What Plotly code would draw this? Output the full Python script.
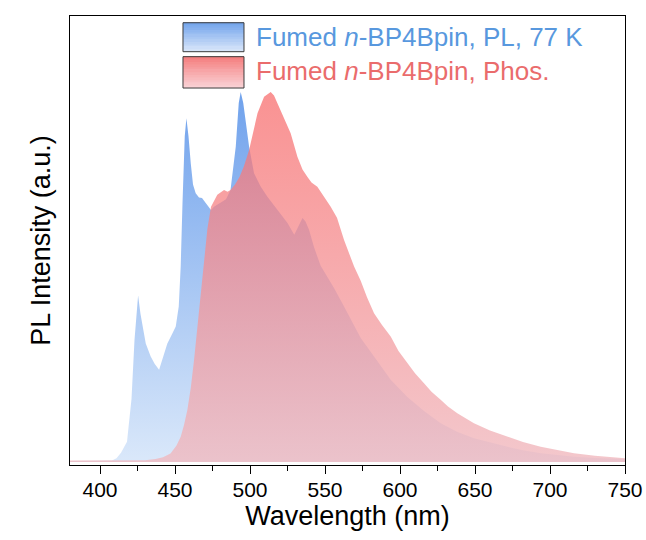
import plotly.graph_objects as go

# ---- data ----
pl_wl = [380, 400, 408, 411, 414, 418, 421, 423, 425.4, 427, 430.5, 433.8, 436.5, 439.4, 442,
         444.9, 448, 450.5, 452.5, 453.8, 455, 456.5, 457.6, 459, 460.5, 462, 463.8, 466, 468,
         471.6, 474, 476, 480, 484, 487, 489, 490.5, 492.5, 493.8, 495.5, 497.1, 499.4, 502.7,
         507, 511.6, 518.3, 525, 529.5, 532, 535, 537, 539.4, 542.7, 547.1, 551.6, 556, 562.7,
         573.8, 582.7, 593.8, 604.9, 616, 627.1, 638, 649.3, 660, 671.6, 682, 693.8, 705, 716,
         730, 750]
pl_int = [0.003, 0.003, 0.004, 0.01, 0.025, 0.055, 0.17, 0.33, 0.45, 0.40, 0.32, 0.285, 0.265,
          0.249, 0.28, 0.32, 0.345, 0.366, 0.42, 0.528, 0.70, 0.88, 0.929, 0.88, 0.807, 0.75,
          0.726, 0.715, 0.713, 0.695, 0.681, 0.69, 0.70, 0.71, 0.735, 0.80, 0.852, 0.97, 1.0,
          0.97, 0.924, 0.852, 0.78, 0.745, 0.717, 0.681, 0.646, 0.614, 0.635, 0.659, 0.65,
          0.627, 0.58, 0.53, 0.50, 0.47, 0.42, 0.335, 0.285, 0.222, 0.176, 0.138, 0.105, 0.082,
          0.064, 0.052, 0.041, 0.032, 0.024, 0.019, 0.014, 0.011, 0.008]

ph_wl = [380, 400, 420, 430, 437, 442, 447, 451, 453.8, 456, 458.2, 460.5, 462.7, 466, 469.4,
         471.6, 474, 478.2, 482.7, 485, 487, 490, 493, 496, 499.4, 502, 505, 509.4, 513.8, 516,
         518.3, 522.7, 527.1, 531.6, 535, 538.2, 541, 544.9, 549.3, 553.8, 558, 562.7, 569.4,
         573.8, 578, 582.7, 588, 593.8, 599, 604.9, 610, 616, 621, 627.1, 632, 638.2, 644,
         649.3, 660, 671.6, 682, 693.8, 705, 716, 730, 750]
ph_int = [0.004, 0.004, 0.004, 0.005, 0.008, 0.013, 0.023, 0.045, 0.068, 0.10, 0.14, 0.20,
          0.276, 0.41, 0.528, 0.63, 0.69, 0.722, 0.735, 0.73, 0.735, 0.75, 0.77, 0.80, 0.843,
          0.89, 0.942, 0.987, 1.0, 0.99, 0.969, 0.924, 0.888, 0.825, 0.79, 0.771, 0.755, 0.744,
          0.717, 0.69, 0.66, 0.60, 0.528, 0.49, 0.445, 0.402, 0.37, 0.339, 0.30, 0.267, 0.24,
          0.213, 0.19, 0.168, 0.15, 0.132, 0.118, 0.105, 0.085, 0.068, 0.054, 0.041, 0.032,
          0.024, 0.017, 0.01]

labels = ["Fumed <i>n</i>-BP4Bpin, PL, 77 K", "Fumed <i>n</i>-BP4Bpin, Phos."]
text_colors = ["rgb(88,152,222)", "rgb(234,108,108)"]

FONT = "Liberation Sans, Arial, sans-serif"

fig = go.Figure()
fig.add_trace(go.Scatter(
    x=pl_wl, y=pl_int, mode="lines", fill="tozeroy", line=dict(width=0, color="rgb(120,168,238)"),
    fillgradient=dict(type="vertical", start=0, stop=1,
                      colorscale=[[0, "rgb(218,232,250)"], [1, "rgb(112,162,236)"]]),
    showlegend=False, hoverinfo="skip"))
fig.add_trace(go.Scatter(
    x=ph_wl, y=ph_int, mode="lines", fill="tozeroy", line=dict(width=0, color="rgba(246,99,99,0.75)"),
    fillgradient=dict(type="vertical", start=0, stop=1,
                      colorscale=[[0, "rgba(240,184,190,0.78)"], [1, "rgba(248,108,108,0.74)"]]),
    showlegend=False, hoverinfo="skip"))

# ---- manual legend (swatches with gradient stripes + text) ----
shapes = []
sw = [
    (0.9205, 0.985, (118, 166, 236), (214, 228, 249)),
    (0.8396, 0.9094, (245, 128, 128), (249, 208, 212)),
]
n = 12
for (y0, y1, ctop, cbot) in sw:
    h = (y1 - y0) / n
    for i in range(n):
        t = i / (n - 1)
        c = tuple(int(round(cbot[k] + (ctop[k] - cbot[k]) * t)) for k in range(3))
        shapes.append(dict(type="rect", xref="paper", yref="paper", x0=0.2036, x1=0.3135,
                           y0=y0 + i * h, y1=y0 + (i + 1) * h + 0.001, line=dict(width=0),
                           fillcolor="rgb(%d,%d,%d)" % c, layer="above"))
    shapes.append(dict(type="rect", xref="paper", yref="paper", x0=0.2036, x1=0.3135,
                       y0=y0, y1=y1, line=dict(width=1, color="rgb(60,60,60)"),
                       fillcolor="rgba(0,0,0,0)", layer="above"))

annotations = []
for lab, col, yy in zip(labels, text_colors, [0.953, 0.8775]):
    annotations.append(dict(text=lab, xref="paper", yref="paper", x=0.331, y=yy,
                            xanchor="left", yanchor="middle", showarrow=False,
                            font=dict(family=FONT, size=26, color=col)))

fig.update_layout(
    width=646, height=540,
    margin=dict(l=70, r=21, t=16, b=75, autoexpand=False),
    paper_bgcolor="white", plot_bgcolor="white",
    font=dict(family=FONT, color="black"),
    shapes=shapes, annotations=annotations,
    xaxis=dict(range=[380, 750], tickmode="array", tickvals=[400, 450, 500, 550, 600, 650, 700, 750],
               ticks="outside", ticklen=8, tickwidth=1.3, tickcolor="black",
               minor=dict(tickvals=[425, 475, 525, 575, 625, 675, 725], ticks="outside",
                          ticklen=5, tickwidth=1, tickcolor="black"),
               showline=True, linecolor="black", linewidth=1.3, mirror=True,
               showgrid=False, zeroline=False, automargin=False,
               ticklabelstandoff=-2,
               tickfont=dict(size=21, family=FONT),
               title=dict(text="Wavelength (nm)", font=dict(size=27, family=FONT), standoff=2)),
    yaxis=dict(range=[-0.008, 1.205], showticklabels=False, ticks="",
               showline=True, linecolor="black", linewidth=1.3, mirror=True,
               showgrid=False, zeroline=False, automargin=False,
               title=dict(text="PL Intensity (a.u.)", font=dict(size=27, family=FONT), standoff=10)),
)

fig.write_html("out.html")
